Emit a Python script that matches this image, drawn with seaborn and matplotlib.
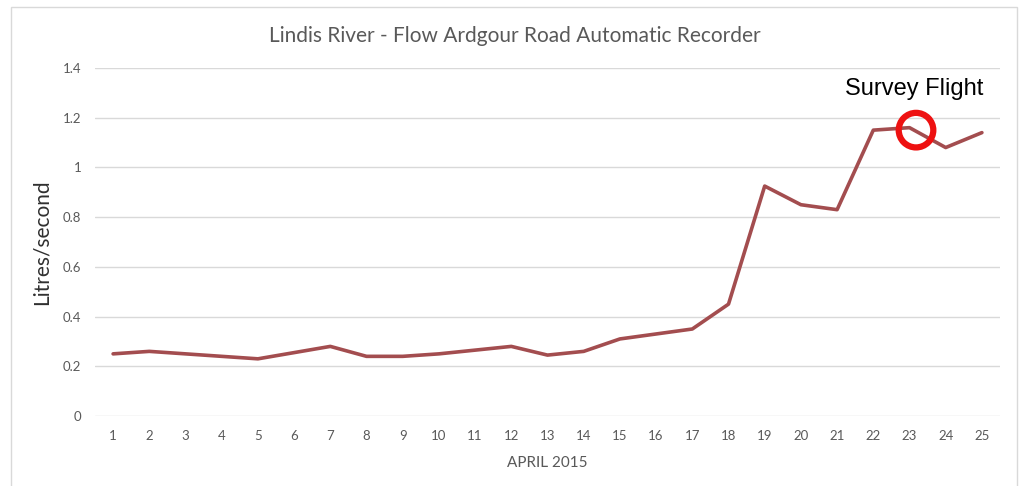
import matplotlib
matplotlib.use("Agg")
import matplotlib.pyplot as plt
import seaborn as sns
import pandas as pd

days = list(range(1, 26))
flow = [0.25, 0.26, 0.25, 0.24, 0.23, 0.255, 0.28, 0.24, 0.24, 0.25,
        0.265, 0.28, 0.245, 0.26, 0.31, 0.33, 0.35, 0.45, 0.925, 0.85,
        0.83, 1.15, 1.16, 1.08, 1.14]
survey_day = 23.18
survey_flow = 1.15
yticks = [0, 0.2, 0.4, 0.6, 0.8, 1, 1.2, 1.4]
ytick_labels = ["0", "0.2", "0.4", "0.6", "0.8", "1", "1.2", "1.4"]

df = pd.DataFrame({"day": days, "flow": flow})

sns.set_theme(style="white")
plt.rcParams["font.family"] = ["Lato", "DejaVu Sans"]

fig = plt.figure(figsize=(10.3, 4.86), dpi=100)
ax = fig.add_axes([95 / 1030, 1 - 416 / 486, 905 / 1030, 348 / 486])

sns.lineplot(data=df, x="day", y="flow", ax=ax, color="#a34d4f",
             linewidth=2.6, zorder=3)

ax.scatter([survey_day], [survey_flow], s=620, facecolors="none",
           edgecolors="#ee1111", linewidths=4.5, zorder=4)
ax.text(survey_day - 0.05, 1.315, "Survey Flight",
        family="Liberation Sans", fontsize=17, color="black", ha="center",
        va="center")

ax.set_xlim(0.5, 25.5)
ax.set_ylim(0, 1.4)
ax.set_xticks(days)
ax.set_xticklabels([str(d) for d in days])
ax.set_yticks(yticks)
ax.set_yticklabels(ytick_labels)
ax.yaxis.grid(True, color="#d9d9d9", linewidth=1)
ax.xaxis.grid(False)
for s in ax.spines.values():
    s.set_visible(False)
ax.tick_params(axis="both", colors="#595959", labelsize=9.5, length=0, pad=10)

ax.set_xlabel("APRIL 2015", color="#595959", fontsize=11, labelpad=10)
ax.set_ylabel("Litres/second", color="#303030", fontsize=15, labelpad=8)

fig.text(0.5, 1 - 36 / 486, "Lindis River - Flow Ardgour Road Automatic Recorder",
         ha="center", va="center", fontsize=15, color="#595959")

# outer chart frame
frame = plt.Rectangle((11 / 1030, -0.05), 1006 / 1030, 1 - 7 / 486 + 0.05,
                      transform=fig.transFigure, fill=False,
                      edgecolor="#d9d9d9", linewidth=1)
fig.patches.append(frame)

fig.savefig("out.png", dpi=100)
